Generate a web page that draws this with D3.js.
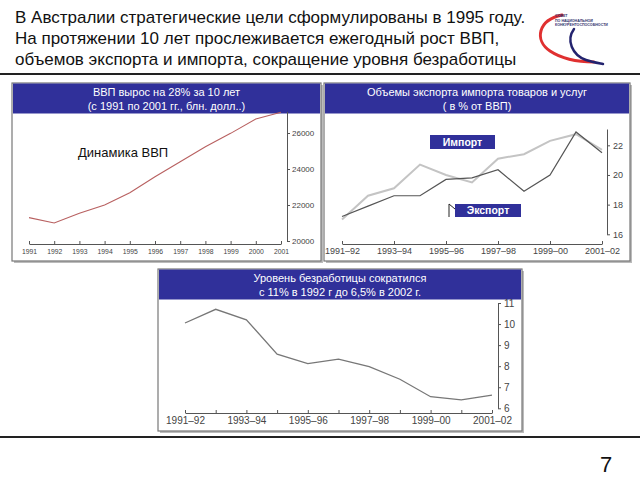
<!DOCTYPE html>
<html><head><meta charset="utf-8">
<script src="https://cdn.jsdelivr.net/npm/d3@7"></script>
<style>
html,body{margin:0;padding:0;background:#fff;}
svg{display:block;}
text{font-family:"Liberation Sans",Arial,sans-serif;}
.tick text{font-family:"Liberation Sans Narrow","Liberation Sans",Arial,sans-serif;fill:#444;}
</style></head>
<body>
<svg id="c" width="640" height="480"></svg>
<script>
// ---- data ----
const titleLines = [
  "В Австралии стратегические цели сформулированы в 1995 году.",
  "На протяжении 10 лет прослеживается ежегодный рост ВВП,",
  "объемов экспорта и импорта, сокращение уровня безработицы"
];
const gdpYears = ["1991","1992","1993","1994","1995","1996","1997","1998","1999","2000","2001"];
const gdpValues = [21300, 21000, 21540, 22000, 22680, 23570, 24400, 25240, 25980, 26780, 27150];
const gdpTicks = [20000, 22000, 24000, 26000];

const tradePeriods = ["1991–92","1992–93","1993–94","1994–95","1995–96","1996–97","1997–98","1998–99","1999–00","2000–01","2001–02"];
const importValues = [17.0, 18.6, 19.1, 20.7, 20.0, 19.5, 21.1, 21.4, 22.3, 22.75, 21.7];
const exportValues = [17.2, 17.9, 18.6, 18.6, 19.7, 19.8, 20.35, 18.9, 20.0, 22.9, 21.5];
const tradeTicks = [16, 18, 20, 22];

const unempPeriods = tradePeriods;
const unempValues = [10.05, 10.7, 10.2, 8.57, 8.12, 8.33, 7.98, 7.38, 6.55, 6.4, 6.63];
const unempTicks = [6, 7, 8, 9, 10, 11];

const headers = {
  gdp: ["ВВП вырос на 28% за 10 лет", "(с 1991 по 2001 гг., блн. долл..)"],
  trade: ["Объемы экспорта импорта товаров и услуг", "( в % от ВВП)"],
  unemp: ["Уровень безработицы сократился", "с 11% в 1992 г до 6,5% в 2002 г."]
};

const svg = d3.select("#c");
const BLUE = "#30309a";

// ---- title ----
svg.append("g").selectAll("text").data(titleLines).join("text")
  .attr("x", 15).attr("y", (d,i)=>23 + i*21)
  .attr("font-size", 17).attr("fill", "#111").text(d=>d);

// ---- logo ----
const logo = svg.append("g");
logo.append("path").attr("d","M562,15 C538,20 534,40 550,51 C562,59 580,62 594,62")
  .attr("fill","none").attr("stroke","#e03030").attr("stroke-width",3).attr("stroke-linecap","round");
logo.append("path").attr("d","M574,29 C566,40 572,55 586,60 C592,62 598,63 603,64")
  .attr("fill","none").attr("stroke","#23236e").attr("stroke-width",2.5).attr("stroke-linecap","round");
["СОВЕТ","ПО НАЦИОНАЛЬНОЙ","КОНКУРЕНТОСПОСОБНОСТИ"].forEach((t,i)=>{
  logo.append("text").attr("x",555).attr("y",17+i*4.5).attr("font-size",3.6)
    .attr("font-weight","bold").attr("fill","#30306e").text(t);
});

// ---- rules ----
svg.append("rect").attr("x",0).attr("y",73).attr("width",640).attr("height",2).attr("fill","#222");
svg.append("rect").attr("x",0).attr("y",436).attr("width",640).attr("height",2).attr("fill","#222");
svg.append("text").attr("x",600).attr("y",472).attr("font-size",22).attr("fill","#111").text("7");

// ---- panel helper ----
function panel(x0, y0, x1, y1, lines) {
  const g = svg.append("g");
  g.append("rect").attr("x",x0+2).attr("y",y0+2).attr("width",x1-x0).attr("height",y1-y0).attr("fill","#bbb");
  g.append("rect").attr("x",x0).attr("y",y0).attr("width",x1-x0).attr("height",y1-y0)
    .attr("fill","#fff").attr("stroke","#777").attr("stroke-width",1.2);
  g.append("rect").attr("x",x0+1).attr("y",y0+0.5).attr("width",x1-x0-2).attr("height",30).attr("fill",BLUE);
  g.selectAll("text.h").data(lines).join("text").attr("class","h")
    .attr("x",(x0+x1)/2).attr("y",(d,i)=>y0+13+i*14)
    .attr("text-anchor","middle").attr("font-size",11).attr("fill","#fff").text(d=>d);
  return g;
}
function styleAxis(g, fs) {
  g.selectAll("path.domain").attr("stroke","#555").attr("stroke-width",1);
  g.selectAll(".tick line").attr("stroke","#555");
  g.selectAll(".tick text").attr("font-size",fs);
}

// ---- panel 1: GDP ----
const p1 = panel(12, 83, 321, 261, headers.gdp);
const x1 = d3.scalePoint().domain(gdpYears).range([29, 281]);
const y1 = d3.scaleLinear().domain([20000, 27200]).range([241, 111.4]);
p1.append("g").attr("transform","translate(0,244)")
  .call(d3.axisBottom(x1).tickSizeInner(-3).tickSizeOuter(0).tickPadding(5))
  .call(g=>styleAxis(g,6.8));
p1.append("g").attr("transform","translate(287,0)")
  .call(d3.axisRight(y1).tickValues(gdpTicks).tickSize(3).tickSizeOuter(0).tickPadding(2).tickFormat(d3.format("d")))
  .call(g=>styleAxis(g,8));
p1.append("path").datum(gdpValues)
  .attr("d", d3.line().x((d,i)=>x1(gdpYears[i])).y(d=>y1(d)))
  .attr("fill","none").attr("stroke","#b86060").attr("stroke-width",1.1);
p1.append("text").attr("x",78).attr("y",157).attr("font-size",13).attr("fill","#111").text("Динамика ВВП");

// ---- panel 2: trade ----
const p2 = panel(324, 83, 630, 261, headers.trade);
const x2 = d3.scalePoint().domain(tradePeriods).range([342, 602]);
const y2 = d3.scaleLinear().domain([16, 23.1]).range([234.3, 129]);
p2.append("g").attr("transform","translate(0,244)")
  .call(d3.axisBottom(x2).tickValues(tradePeriods.filter((d,i)=>i%2===0)).tickSizeInner(-3).tickSizeOuter(0).tickPadding(4))
  .call(g=>styleAxis(g,9));
p2.append("g").attr("transform","translate(607,0)")
  .call(d3.axisRight(y2).tickValues(tradeTicks).tickSize(3).tickSizeOuter(0).tickPadding(3).tickFormat(d3.format("d")))
  .call(g=>styleAxis(g,9));
const line2 = d3.line().x((d,i)=>x2(tradePeriods[i])).y(d=>y2(d));
p2.append("path").datum(importValues).attr("d",line2)
  .attr("fill","none").attr("stroke","#c4c4c4").attr("stroke-width",2);
p2.append("path").datum(exportValues).attr("d",line2)
  .attr("fill","none").attr("stroke","#555").attr("stroke-width",1.2);
// labels
function tag(x, y, w, h, t) {
  p2.append("rect").attr("x",x).attr("y",y).attr("width",w).attr("height",h).attr("fill",BLUE);
  p2.append("text").attr("x",x+w/2).attr("y",y+h-3.5).attr("text-anchor","middle")
    .attr("font-size",10.5).attr("font-weight","bold").attr("fill","#fff").text(t);
}
p2.append("path").attr("d","M434,137 L438,136 L440,139").attr("fill","none").attr("stroke","#222").attr("stroke-width",1);
tag(430, 135, 65, 14, "Импорт");
p2.append("path").attr("d","M449,217 L449,204 L455,209").attr("fill","none").attr("stroke","#222").attr("stroke-width",1);
tag(455, 204, 66, 13, "Экспорт");

// ---- panel 3: unemployment ----
const p3 = panel(158, 269, 522, 431, headers.unemp);
const x3 = d3.scalePoint().domain(unempPeriods).range([185, 492]);
const y3 = d3.scaleLinear().domain([6, 11]).range([408.3, 303]);
p3.append("g").attr("transform","translate(0,413)")
  .call(d3.axisBottom(x3).tickSizeInner(-3).tickSizeOuter(0).tickPadding(4)
    .tickFormat((d,i)=> i%2===0 ? d : ""))
  .call(g=>styleAxis(g,10));
p3.append("g").attr("transform","translate(498,0)")
  .call(d3.axisRight(y3).tickValues(unempTicks).tickSize(3).tickSizeOuter(0).tickPadding(3).tickFormat(d3.format("d")))
  .call(g=>styleAxis(g,10));
p3.append("path").datum(unempValues)
  .attr("d", d3.line().x((d,i)=>x3(unempPeriods[i])).y(d=>y3(d)))
  .attr("fill","none").attr("stroke","#777").attr("stroke-width",1.3);
</script>
</body></html>
